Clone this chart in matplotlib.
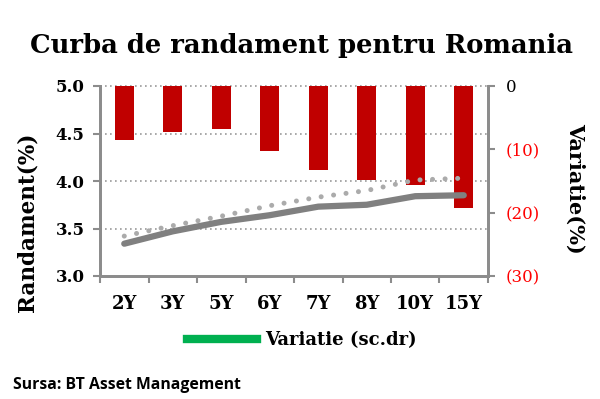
import matplotlib
matplotlib.use("Agg")
import matplotlib.pyplot as plt
from matplotlib.lines import Line2D
from matplotlib.transforms import blended_transform_factory

categories = ["2Y", "3Y", "5Y", "6Y", "7Y", "8Y", "10Y", "15Y"]
variatie = [8.5, 7.3, 6.8, 10.2, 13.3, 14.8, 15.7, 19.2]
randament_curent = [3.34, 3.47, 3.57, 3.64, 3.73, 3.75, 3.84, 3.85]
randament_anterior = [3.42, 3.53, 3.63, 3.74, 3.83, 3.90, 4.01, 4.03]
left_ticks = [3.0, 3.5, 4.0, 4.5, 5.0]
right_ticks = [0, -10, -20, -30]
right_labels = ["0", "(10)", "(20)", "(30)"]

SERIF = ["DejaVu Serif"]
RED = "#c00000"
GRAY = "#8c8c8c"

fig = plt.figure(figsize=(6.0, 3.99), dpi=100)
ax = fig.add_axes([100/600, 1-276/399, 388/600, 190/399])
ax2 = ax.twinx()
ax.set_zorder(3)
ax.patch.set_visible(False)

x = list(range(len(categories)))

# grid on bar axes (behind bars), in left-axis units
tr = blended_transform_factory(ax2.transAxes, ax.transData)
for v in left_ticks[1:]:
    ax2.plot([0, 1], [v, v], transform=tr, color="#9a9a9a", lw=1.2,
             linestyle=(0, (1, 2)), zorder=0, clip_on=False)

ax2.bar(x, [-v for v in variatie], width=0.4, color=RED, zorder=2)
ax2.set_ylim(-30, 0)
ax2.set_yticks(right_ticks)
ax2.set_yticklabels(right_labels, family=SERIF, fontsize=12)
for lab, c in zip(ax2.get_yticklabels(), ["black", "red", "red", "red"]):
    lab.set_color(c)
ax2.set_ylabel("Variatie(%)", family=SERIF, fontsize=15, fontweight="bold",
               rotation=-90, va="center")
ax2.yaxis.set_label_coords((575 - 100) / 388, (276 - 188) / 190)

ax.plot(x, randament_anterior, color="#ababab", lw=3.6,
        linestyle=(0, (0.01, 2.5)), dash_capstyle="round", solid_capstyle="round", zorder=3)
ax.plot(x, randament_curent, color="#808080", lw=4.5, solid_capstyle="round", zorder=4)
ax.set_ylim(3.0, 5.0)
ax.set_xlim(-0.5, len(categories) - 0.5)
ax.set_yticks(left_ticks)
ax.set_yticklabels([f"{v:.1f}" for v in left_ticks], family=SERIF, fontsize=12, fontweight="bold")
ax.set_xticks(x)
ax.set_xticklabels(categories, family=SERIF, fontsize=13, fontweight="bold")
ax.set_xticks([i + 0.5 for i in range(-1, len(categories))], minor=True)
ax.tick_params(axis="x", which="major", length=0, pad=14)
ax.tick_params(axis="x", which="minor", length=5, width=1.5, color=GRAY)
ax.tick_params(axis="y", length=5, width=1.5, color=GRAY, pad=6)
ax2.tick_params(axis="y", length=5, width=1.5, color=GRAY, pad=8)
ax.set_ylabel("Randament(%)", family=SERIF, fontsize=15.5, fontweight="bold", va="center")
ax.yaxis.set_label_coords((27 - 100) / 388, (276 - 222) / 190)

for a in (ax, ax2):
    a.spines["top"].set_visible(False)
    for s in ("left", "right", "bottom"):
        a.spines[s].set_color(GRAY)
        a.spines[s].set_linewidth(2)

fig.text(301/600, 1-45/399, "Curba de randament pentru Romania", family=SERIF,
         fontsize=18.6, fontweight="bold", ha="center", va="center")

handle = Line2D([], [], color="#00b050", lw=6)
fig.legend([handle], ["Variatie (sc.dr)"], loc="center", bbox_to_anchor=(302/600, 1-340/399),
           frameon=False, handlelength=3.9, handletextpad=0.45,
           prop={"family": SERIF, "size": 13, "weight": "bold"})

fig.text(13/600, 1-385/399, "Sursa: BT Asset Management", family=["Open Sans"],
         fontsize=11.3, fontweight="bold", ha="left", va="center")

fig.savefig("out.png", dpi=100)
